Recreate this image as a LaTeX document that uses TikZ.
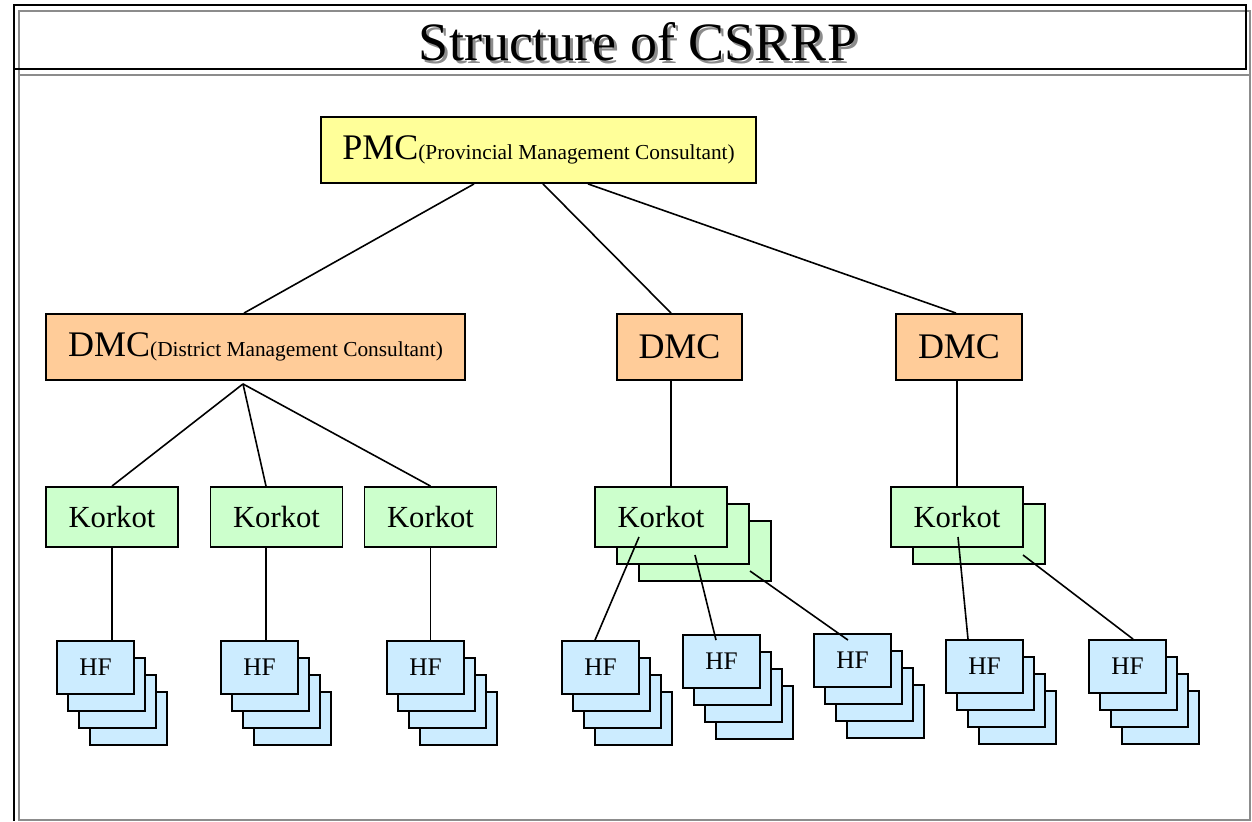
\documentclass[tikz,border=0pt]{standalone}
\usepackage{fontspec}
\setmainfont{Liberation Serif}
\usetikzlibrary{calc}
\definecolor{pmcyellow}{RGB}{255,255,153}
\definecolor{dmcorange}{RGB}{255,204,153}
\definecolor{korgreen}{RGB}{204,255,204}
\definecolor{hfblue}{RGB}{204,236,255}
\definecolor{framegray}{RGB}{140,140,140}
\newcommand{\bigtxt}{\fontsize{27}{30}\selectfont}
\newcommand{\smalltxt}{\fontsize{16}{18}\selectfont}
\tikzset{
  unitbox/.style={rectangle, draw=black, line width=1.4pt, inner sep=0pt,
                  align=center},
  pmcbox/.style ={unitbox, fill=pmcyellow, minimum width=326.25pt, minimum height=49.5pt},
  dmcbox/.style ={unitbox, fill=dmcorange, minimum height=49.5pt},
  korbox/.style ={unitbox, fill=korgreen, minimum width=99pt, minimum height=45pt,
                  font=\fontsize{23}{25}\selectfont},
  hfbox/.style  ={unitbox, fill=hfblue, minimum width=57.75pt, minimum height=39.75pt,
                  font=\fontsize{19}{21}\selectfont},
  link/.style   ={line width=1.2pt, draw=black},
}

\begin{document}
\begin{tikzpicture}[x=0.75pt, y=-0.75pt]
  \useasboundingbox (0,0) rectangle (1252,821);
  % frame and title
  \draw[framegray, line width=1.3pt] (19,11) rectangle (1250,75);
  \draw[framegray, line width=1.3pt] (19,75) rectangle (1250,820);
  \draw[black, line width=1.3pt] (14,5) rectangle (1246,69);
  \draw[black, line width=1.3pt] (14,69) -- (14,821);
  \node[text=framegray, font=\fontsize{40.5}{44}\selectfont] at (641,45) {Structure of CSRRP};
  \node[font=\fontsize{40.5}{44}\selectfont] (title) at (638,42) {Structure of CSRRP};

  % consultants
  \node[pmcbox] (pmc) at (538.5,150) {{\bigtxt PMC}{\smalltxt(Provincial Management Consultant)}};
  \node[dmcbox, minimum width=314.25pt] (dmcA) at (255.5,347) {{\bigtxt DMC}{\smalltxt(District Management Consultant)}};
  \node[dmcbox, minimum width=93.75pt] (dmcB) at (679.5,347) {\bigtxt DMC};
  \node[dmcbox, minimum width=94.5pt]  (dmcC) at (959,347)   {\bigtxt DMC};

  % korkot (stacks drawn back to front)
  \foreach \k in {2,1} \node[korbox] at (661+22*\k,517+17*\k) {};
  \node[korbox] at (979,534) {};
  \foreach \n/\x in {1/112, 2/276.5, 3/430.5, 4/661, 5/957}
    \node[korbox] (kor\n) at (\x,517) {Korkot};

  % health facilities
  \foreach \n/\x/\y in {1/95.5/667.5, 2/259.5/667.5, 3/425.5/667.5, 4/600.5/667.5,
                        5/721.5/661.5, 6/852.5/660.5, 7/984.5/666.5, 8/1127.5/666.5} {
    \foreach \k in {3,2,1} \node[hfbox] at (\x+11*\k,\y+17*\k) {};
    \node[hfbox] (hf\n) at (\x,\y) {HF};
  }

  % links
  \draw[link] ($(pmc.south)+(-64.5,0)$) -- ($(dmcA.north)+(-11.5,0)$);
  \draw[link] ($(pmc.south)+(4.5,0)$)   -- ($(dmcB.north)+(-8.5,0)$);
  \draw[link] ($(pmc.south)+(49.5,0)$)  -- ($(dmcC.north)+(-3,0)$);
  \coordinate (fork) at ($(dmcA.south)+(-12.5,3)$);
  \draw[link] (fork) -- (kor1.north);
  \draw[link] (fork) -- ($(kor2.north)+(-10.5,0)$);
  \draw[link] (fork) -- (kor3.north);
  \draw[link] ($(dmcB.south)+(-8.5,0)$) -- ($(kor4.north)+(10,0)$);
  \draw[link] ($(dmcC.south)+(-2,0)$)   -- (kor5.north);
  \draw[link] (kor1.south) -- ($(hf1.north)+(16.5,0)$);
  \draw[link] ($(kor2.south)+(-10.5,0)$) -- ($(hf2.north)+(6.5,0)$);
  \draw[link] (kor3.south) -- ($(hf3.north)+(5,0)$);
  \draw[link] ($(kor4.center)+(-22,20)$) -- ($(hf4.north)+(-5.5,0)$);
  \draw[link] ($(kor4.center)+(34,38)$)  -- ($(hf5.north)+(-5.5,6)$);
  \draw[link] ($(kor4.center)+(89,54)$)  -- ($(hf6.north)+(-4.5,7)$);
  \draw[link] ($(kor5.center)+(1,20)$)   -- ($(hf7.north)+(-16.5,0)$);
  \draw[link] ($(kor5.center)+(66,38)$)  -- ($(hf8.north)+(5.5,0)$);
\end{tikzpicture}
\end{document}
